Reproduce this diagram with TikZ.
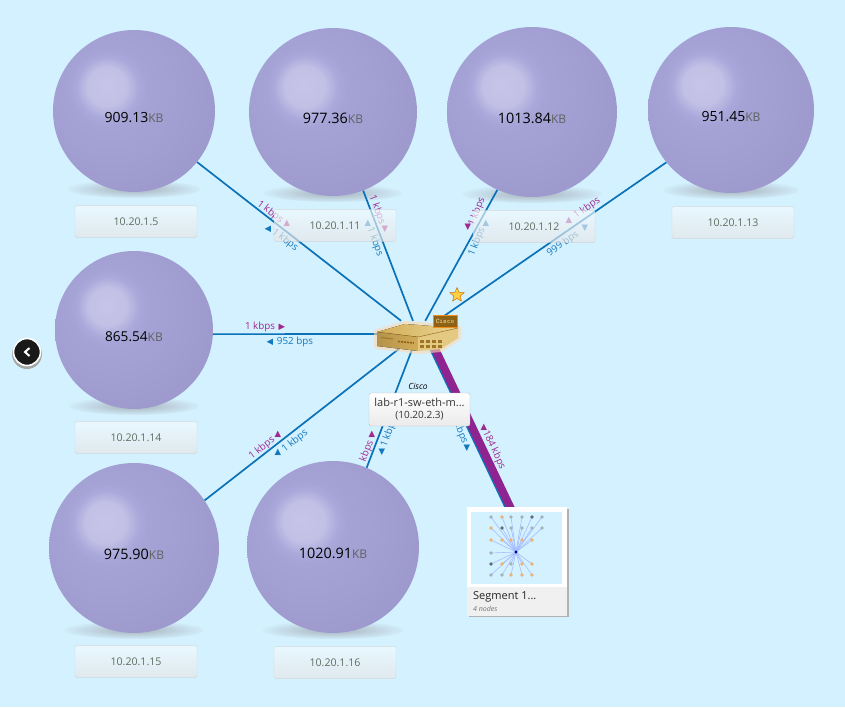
\documentclass[tikz,border=0pt]{standalone}
\usepackage{fontspec}
\setmainfont{Open Sans}
\newfontfamily\trifont{DejaVu Sans}
\usetikzlibrary{positioning,shapes.geometric,calc}
\definecolor{skybg}{HTML}{D4F1FF}
\definecolor{ratepurple}{HTML}{A0288F}
\definecolor{rateblue}{HTML}{1478BE}
\definecolor{linkblue}{HTML}{0A72B8}
\definecolor{linkpurple}{HTML}{8E2490}
\definecolor{ballA}{HTML}{C6C4E7}
\definecolor{ballB}{HTML}{C2C0E5}
\definecolor{ballC}{HTML}{ABA9DB}
\definecolor{ballD}{HTML}{A5A2D6}
\definecolor{ballE}{HTML}{9C98CB}
\definecolor{ballF}{HTML}{9791BC}
\definecolor{shadeball}{HTML}{B4C4CE}
\definecolor{goldlt}{HTML}{EAD592}
\definecolor{goldmd}{HTML}{D2AC58}
\definecolor{golddk}{HTML}{8E6214}
\definecolor{iptext}{HTML}{5E6E62}
\pgfdeclareradialshading{memsphere}{\pgfpoint{-9bp}{8bp}}{%
  color(0bp)=(ballA); color(6bp)=(ballB); color(9.5bp)=(ballC); color(12bp)=(ballD);
  color(36bp)=(ballE); color(52bp)=(ballF); color(100bp)=(ballF)}
\pgfdeclareradialshading{memfloor}{\pgfpointorigin}{%
  color(0bp)=(shadeball); color(8bp)=(shadeball); color(27bp)=(skybg); color(100bp)=(skybg)}
\newcommand{\memball}[6]{%
  \node (sh#1) [ballshadow, minimum width=.82*#4pt, minimum height=18pt] at (#2,#3+#4/2-3) {};
  \node (s#1) [ballnode, minimum size=#4pt] at (#2,#3) {\raisebox{-11pt}[0pt][0pt]{\fontsize{#6}{#6}\selectfont #5\textcolor{black!62}{\fontsize{12}{12}\selectfont KB}}};
}
\newcommand{\thumbdots}{491/517/gray,502/517/orange,511/517/gray,522/517/gray,532/517/black,542/517/gray,
  491/528/orange,502/528/black,511/528/gray,522/528/gray,532/528/gray,542/528/gray,
  491/540/orange,502/540/orange,511/540/orange,522/540/orange,532/540/orange,491/553/gray,
  491/564/black,502/564/orange,511/564/gray,522/564/orange,532/564/orange,
  491/575/gray,502/575/gray,511/575/orange,522/575/orange,532/575/orange}
\begin{document}
\begin{tikzpicture}[
    x=1pt, y=-1pt,
    ballshadow/.style={ellipse, inner sep=0pt, shading=memfloor},
    ballnode/.style={circle, inner sep=0pt, shading=memsphere, text=black},
    ipbox/.style={rounded corners=2pt, draw=black!20, top color=white!75!skybg, bottom color=black!10!white,
      fill opacity=.66, draw opacity=.7, text opacity=1, minimum width=122pt, minimum height=32pt, inner sep=0pt,
      xshift=2pt, text=iptext, font=\fontsize{10.6}{11}\selectfont},
    link/.style={draw=linkblue, line width=1.7pt},
    upr/.style={text=ratepurple, inner sep=0pt, font=\fontsize{9.8}{10}\selectfont},
    dnr/.style={text=rateblue, inner sep=0pt, font=\fontsize{9.8}{10}\selectfont},
    upt/.style={text=ratepurple, inner sep=0pt, font=\trifont\fontsize{8.5}{9}\selectfont},
    dnt/.style={text=rateblue, inner sep=0pt, font=\trifont\fontsize{8.5}{9}\selectfont}
  ]
  \fill[skybg] (0,0) rectangle (845,707);
  \useasboundingbox (0,0) rectangle (845,707);

  % Spheres
  \memball{5}{134}{111}{162}{909.13}{14}
  \memball{11}{333}{112}{168}{977.36}{14.4}
  \memball{12}{532}{112}{170}{1013.84}{14.4}
  \memball{13}{731}{110}{166}{951.45}{14}
  \memball{14}{134}{330}{158}{865.54}{13.6}
  \memball{15}{134}{548}{170}{975.90}{14.4}
  \memball{16}{333}{547}{172}{1020.91}{14.4}

  \node (hub) [minimum width=70pt, minimum height=26pt, inner sep=0pt] at (418,334) {};
  \node (seg) [minimum width=100pt, minimum height=109pt, inner sep=0pt] at (517,561.5) {};

  % Links
  \draw[link] (s5.-39.5)--(hub);
  \draw[link] (s11.-69)--(hub);
  \draw[link] (s12.-114)--(hub);
  \draw[link] (s13.-141)--(hub);
  \draw[link] (s14.-3.6)--(hub);
  \draw[link] (s15.34)--(hub);
  \draw[link] (s16.67.6)--(hub);
  \draw[link] ($(hub.center)+(5,0)$)--($(seg.center)+(14,0)$);
  \draw[draw=linkpurple, line width=8pt] ($(hub.center)+(10,0)$)--($(seg.center)+(19,0)$);

  % Rates
  \node (r5a) [upr, rotate=-37] at (270,212) {1 kbps};
  \node (t5a) [upt] at (287,223) {▲};
  \node (r5b) [dnr, rotate=-37] at (285,240) {1 kbps};
  \node (t5b) [dnt] at (268,229) {◀};
  \node (r11a) [upr, rotate=-70] at (377,210) {1 kbps};
  \node (t11a) [upt] at (385,229) {▼};
  \node (r11b) [dnr, rotate=-70] at (375,242) {1 kbps};
  \node (t11b) [dnt] at (368,223) {▲};
  \node (r12a) [upr, rotate=68] at (477,212) {1 kbps};
  \node (t12a) [upt] at (468,227) {▼};
  \node (r12b) [dnr, rotate=68] at (477,242) {1 kbps};
  \node (t12b) [dnt] at (486,223) {▲};
  \node (r13a) [upr, rotate=35] at (587,208) {1 kbps};
  \node (t13a) [upt] at (569,220) {▲};
  \node (r13b) [dnr, rotate=35] at (563,244) {999 bps};
  \node (t13b) [dnt] at (585,228) {▼};
  \node (r14a) [upr] at (260,327) {1 kbps};
  \node (t14a) [upt] at (282,327) {▶};
  \node (r14b) [dnr] at (295,342) {952 bps};
  \node (t14b) [dnt] at (270,342) {◀};
  \node (r15a) [upr, rotate=38] at (262,448) {1 kbps};
  \node (t15a) [upt] at (278,434) {▲};
  \node (r15b) [dnr, rotate=38] at (295,441) {1 kbps};
  \node (t15b) [dnt] at (278,452) {▲};
  \node (r16a) [upr, rotate=68] at (367,451) {kbps};
  \node (t16a) [upt] at (372,434) {▲};
  \node (r16b) [dnr, rotate=70] at (389,433) {1 kbps};
  \node (t16b) [dnt] at (382,452) {▼};
  \node (r17a) [upr, rotate=-65] at (494,450) {184 kbps};
  \node (t17a) [upt] at (484,427) {▲};
  \node (r17b) [dnr, rotate=-68] at (461,433) {kbps};
  \node (t17b) [dnt] at (467,448) {▼};

  % Address boxes
  \node (l5) [ipbox, below=13pt of s5] {10.20.1.5};
  \node (l11) [ipbox, below=13pt of s11] {10.20.1.11};
  \node (l12) [ipbox, below=13pt of s12] {10.20.1.12};
  \node (l13) [ipbox, below=13pt of s13] {10.20.1.13};
  \node (l14) [ipbox, below=12pt of s14] {10.20.1.14};
  \node (l15) [ipbox, below=12pt of s15] {10.20.1.15};
  \node (l16) [ipbox, below=13pt of s16] {10.20.1.16};

  % Switch
  \draw[line width=6pt, line join=round, draw=orange!30!white, opacity=.6]
    (377,332)--(405,324)--(458,328)--(458,338)--(441,349)--(418,351)--(377,346)--cycle;
  \fill[left color=goldmd, right color=goldlt] (377,332)--(405,324)--(458,328)--(418,337)--cycle;
  \fill[left color=goldmd!85!black, right color=goldmd] (377,332)--(418,337)--(418,351)--(377,346)--cycle;
  \fill[goldlt!70!goldmd] (418,337)--(458,328)--(458,338)--(441,349)--(418,351)--cycle;
  \draw[golddk!70!goldmd, line width=.5pt] (377,332)--(418,337)--(458,328);
  \draw[golddk, line width=1.6pt, dash pattern=on 2pt off 1pt] (398,341.5)--(414,343);
  \draw[golddk!70!goldmd, line width=1pt] (381,337.5)--(393,339);
  \foreach \x in {420,426,432,438} {
    \fill[golddk!75!goldmd] (\x,340) rectangle ++(3.8,3);
    \fill[golddk!75!goldmd] (\x,345) rectangle ++(3.8,3);
  }
  \node (tag) [fill=golddk, draw=orange!70!goldmd, text=goldlt, minimum width=24pt, minimum height=12pt, inner sep=0pt,
    font=\ttfamily\bfseries\fontsize{7}{7}\selectfont] at (445,321) {Cisco};
  \node (fav) [star, star points=5, star point ratio=2.2, minimum size=15pt, inner sep=0pt,
    fill=orange!50!yellow!75!white, draw=orange!75!black, line width=.4pt] at (457,295) {};

  % Switch label
  \node (vendor) [font=\itshape\fontsize{8.5}{9}\selectfont, inner sep=0pt] at (418,386) {Cisco};
  \node (sw) [rounded corners=2pt, draw=black!25, top color=white, bottom color=black!8, minimum width=101pt,
    minimum height=33pt, inner sep=0pt, align=center, text=black!80, font=\fontsize{11}{12}\selectfont] at (419.5,409.5)
    {lab-r1-sw-eth-m...\\{\fontsize{10}{11}\selectfont (10.20.2.3)}};

  % Segment card
  \fill[black!30] (468.5,508.5) rectangle (568.5,617);
  \node (card) [fill=white, minimum width=100pt, minimum height=109pt, inner sep=0pt] at (seg.center) {};
  \fill[skybg] (471,512) rectangle (562,584);
  \fill[black!6] (467,587) rectangle (567,616);
  \foreach \x/\y/\c in \thumbdots {
    \draw[blue!22!skybg, line width=.6pt] (516,552)--(\x,\y);
  }
  \foreach \x/\y/\c in \thumbdots {
    \fill[\c!55!skybg] (\x,\y) circle (1.9pt);
  }
  \fill[blue!60!black] (516,552) circle (1.6pt);
  \node (segname) [anchor=west, inner sep=0pt, text=black!85, font=\fontsize{11}{11}\selectfont] at (473,597) {Segment 1...};
  \node (segcount) [anchor=west, inner sep=0pt, text=black!55, font=\itshape\fontsize{7}{7}\selectfont] at (473,609) {4 nodes};

  % Back button
  \fill[black!35] (27,354) circle (15pt);
  \node (back) [circle, fill=black!90, draw=white, line width=1.6pt, minimum size=27pt, inner sep=0pt] at (27,352) {};
  \draw[white, line width=2pt] (29.5,348)--(25,352)--(29.5,356);
\end{tikzpicture}
\end{document}
